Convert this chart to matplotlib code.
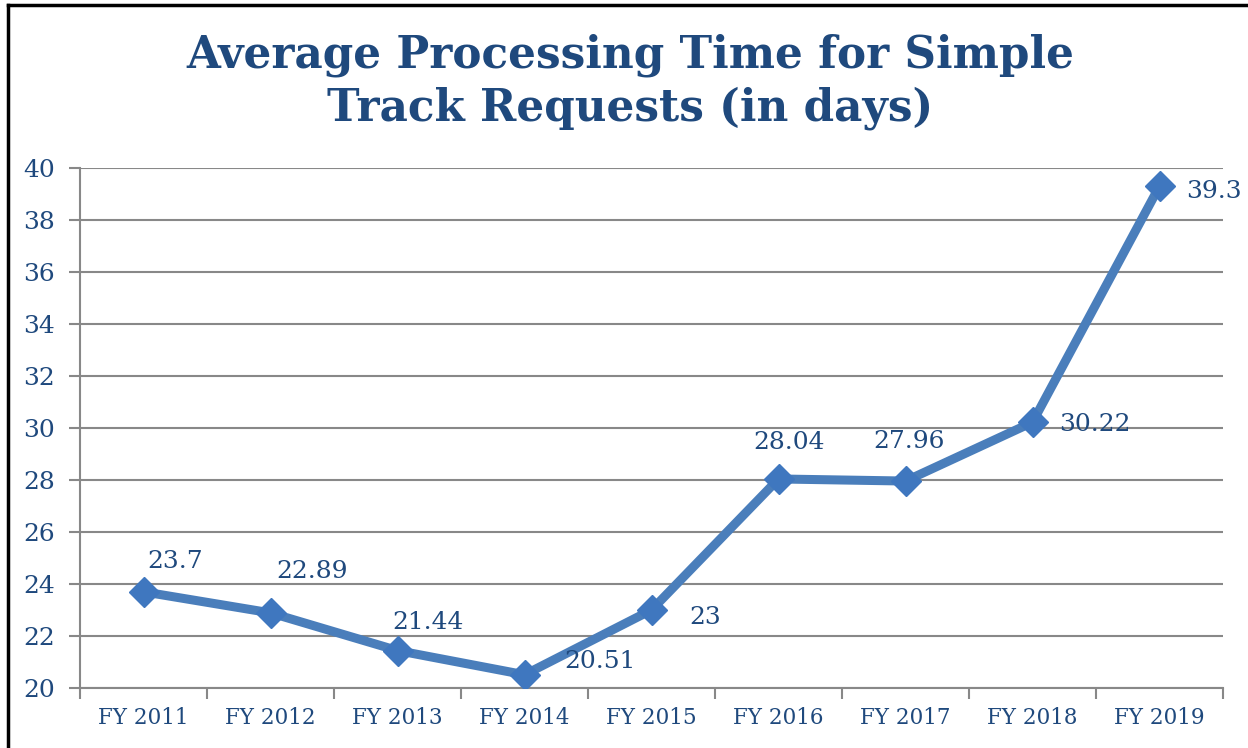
import matplotlib.pyplot as plt
from matplotlib.lines import Line2D

# datos
anios = ["FY 2011", "FY 2012", "FY 2013", "FY 2014", "FY 2015",
         "FY 2016", "FY 2017", "FY 2018", "FY 2019"]
dias = [23.7, 22.89, 21.44, 20.51, 23, 28.04, 27.96, 30.22, 39.3]
etiquetas = ["23.7", "22.89", "21.44", "20.51", "23", "28.04", "27.96", "30.22", "39.3"]

# desplazamiento de etiquetas (pixeles)
desplaz = [(32, 30), (42, 41), (30, 28), (76, 13), (54, -7),
           (11, 36), (4, 40), (62, -2), (54, -5)]

azul_texto = "#1F497D"
azul_linea = "#4A7EBB"
gris = "#888888"
fuente = "DejaVu Serif"

fig = plt.figure(figsize=(12.48, 7.48), dpi=100)
ax = fig.add_axes([80/1248, 1-688/748, 1143/1248, 520/748])

x = list(range(len(anios)))
ax.plot(x, dias, color=azul_linea, lw=6.5, marker="D", markersize=15,
        markerfacecolor="#3F77BF", markeredgecolor="#3F77BF", zorder=3,
        solid_joinstyle="round")

for i, (v, t) in enumerate(zip(dias, etiquetas)):
    ax.annotate(t, (i, v), xytext=desplaz[i], textcoords="offset pixels",
                ha="center", va="center", fontsize=18, color=azul_texto,
                family=fuente)

ax.set_xlim(-0.5, len(anios) - 0.5)
ax.set_ylim(20, 40)
ax.set_yticks(range(20, 41, 2))
ax.set_xticks(x)
ax.set_xticklabels(anios)
ax.set_xticks([i - 0.5 for i in range(len(anios) + 1)], minor=True)

ax.grid(axis="y", color=gris, lw=1.5)
ax.set_axisbelow(True)
for s in ["top", "right"]:
    ax.spines[s].set_visible(False)
for s in ["left", "bottom"]:
    ax.spines[s].set_color(gris)
    ax.spines[s].set_linewidth(1.5)

ax.tick_params(axis="y", length=8, width=1.5, color=gris, labelcolor=azul_texto,
               labelsize=18, pad=10)
ax.tick_params(axis="x", which="major", length=0, labelcolor=azul_texto,
               labelsize=15.5, pad=14)
ax.tick_params(axis="x", which="minor", length=8, width=1.5, color=gris)
for lab in ax.get_xticklabels() + ax.get_yticklabels():
    lab.set_family(fuente)

fig.text(0.505, 1-55/748, "Average Processing Time for Simple", ha="center",
         va="center", fontsize=31.5, fontweight="bold", color=azul_texto, family=fuente)
fig.text(0.505, 1-108/748, "Track Requests (in days)", ha="center",
         va="center", fontsize=31.5, fontweight="bold", color=azul_texto, family=fuente)

# marco
fig.add_artist(Line2D([8/1248, 8/1248], [0, 1-5/748], color="black", lw=2.5,
                      transform=fig.transFigure))
fig.add_artist(Line2D([8/1248, 1], [1-5/748, 1-5/748], color="black", lw=2.5,
                      transform=fig.transFigure))

fig.savefig("out.png", dpi=100, facecolor="white")
